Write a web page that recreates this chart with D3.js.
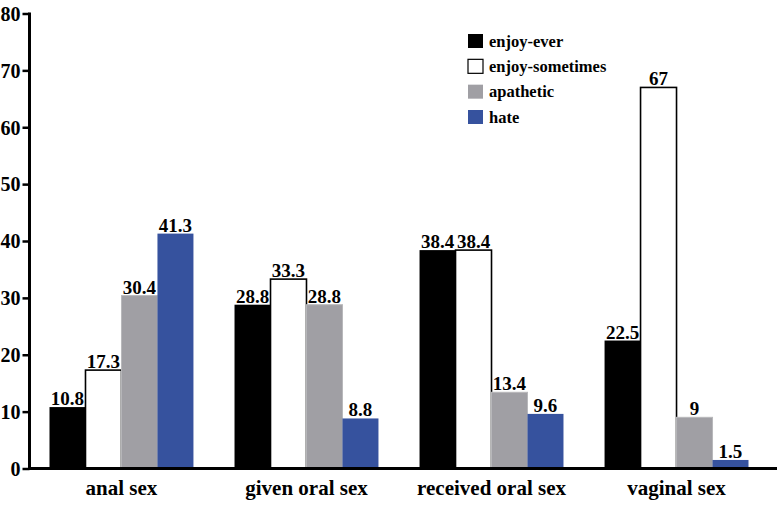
<!DOCTYPE html>
<html><head><meta charset="utf-8">
<script src="https://cdn.jsdelivr.net/npm/d3@7"></script>
<style>body{margin:0;background:#fff}svg{display:block}</style>
</head><body><svg id="c" width="777" height="507"></svg>
<script>
const categories = ["anal sex", "given oral sex", "received oral sex", "vaginal sex"];
const seriesNames = ["enjoy-ever", "enjoy-sometimes", "apathetic", "hate"];
const enjoyEver = [10.8, 28.8, 38.4, 22.5];
const enjoySometimes = [17.3, 33.3, 38.4, 67];
const apathetic = [30.4, 28.8, 13.4, 9];
const hate = [41.3, 8.8, 9.6, 1.5];
const yTicks = [0, 10, 20, 30, 40, 50, 60, 70, 80];
const colors = ["#000000", "#ffffff", "#a09fa4", "#36529e"];
const seriesValues = [enjoyEver, enjoySometimes, apathetic, hate];
const FONT = "'Liberation Serif'";

const svg = d3.select("#c");
const x0 = d3.scaleBand().domain(categories).range([31, 767]).paddingInner(0.222).paddingOuter(0.1);
const x1 = d3.scaleBand().domain(seriesNames).range([0, x0.bandwidth()]).padding(0);
const y = d3.scaleLinear().domain([0, 80]).range([468.5, 13.5]);

const groups = svg.selectAll("g.grp").data(categories).join("g")
  .attr("transform", d => `translate(${x0(d)},0)`);

seriesNames.forEach((s, si) => {
  groups.append("rect")
    .attr("x", x1(s)).attr("width", x1.bandwidth())
    .attr("y", (d, i) => y(seriesValues[si][i]))
    .attr("height", (d, i) => y(0) - y(seriesValues[si][i]))
    .attr("fill", colors[si])
    .attr("stroke", si === 1 ? "#000" : (si === 2 ? "#b8b8bb" : "none"))
    .attr("stroke-width", si === 1 ? 1.6 : 1);
  groups.append("text")
    .attr("x", x1(s) + x1.bandwidth() / 2)
    .attr("y", (d, i) => y(seriesValues[si][i]) - 2)
    .attr("text-anchor", "middle").attr("fill", "#000")
    .style("font-family", FONT).style("font-weight", "bold").style("font-size", "19px")
    .text((d, i) => seriesValues[si][i]);
});

// y axis
const yAxis = svg.append("g").attr("transform", "translate(29.5,0)")
  .call(d3.axisLeft(y).tickValues(yTicks).tickSize(7).tickSizeOuter(0).tickPadding(2));
yAxis.select(".domain").attr("stroke-width", 3).attr("d", `M0,${y(80)-1}V${y(0)+1.5}`);
yAxis.selectAll(".tick line").attr("stroke-width", 2.5);
yAxis.selectAll(".tick text").attr("fill", "#000").attr("dy", "0.34em")
  .style("font-family", FONT).style("font-weight", "bold").style("font-size", "20px");

// x axis
const xAxis = svg.append("g").attr("transform", `translate(0,${y(0)})`)
  .call(d3.axisBottom(x0).tickSize(0).tickPadding(12));
xAxis.select(".domain").attr("stroke-width", 3).attr("d", "M28,0H777");
xAxis.selectAll(".tick text").attr("fill", "#000")
  .style("font-family", FONT).style("font-weight", "bold").style("font-size", "21px");

// legend
const leg = svg.append("g").attr("transform", "translate(468,0)");
const legY = d3.scalePoint().domain(seriesNames).range([41, 117]);
seriesNames.forEach((s, si) => {
  leg.append("rect").attr("x", 0).attr("y", legY(s) - 7).attr("width", 15).attr("height", 14)
    .attr("fill", colors[si]).attr("stroke", si === 1 ? "#000" : "none").attr("stroke-width", 1.2);
  leg.append("text").attr("x", 21).attr("y", legY(s) + 5.5).attr("fill", "#000")
    .style("font-family", FONT).style("font-weight", "bold").style("font-size", "16.5px").text(s);
});
</script></body></html>
